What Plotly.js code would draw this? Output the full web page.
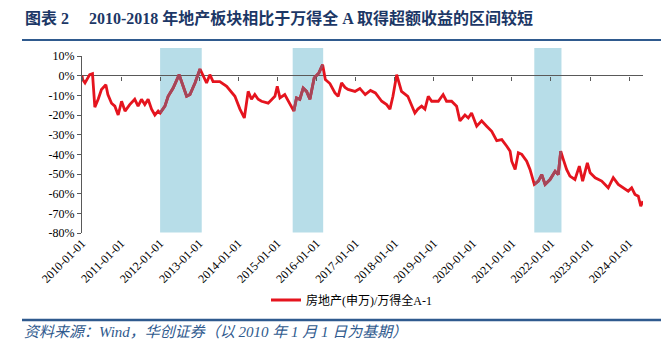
<!DOCTYPE html>
<html>
<head>
<meta charset="utf-8">
<script src="https://cdn.plot.ly/plotly-3.0.1.min.js"></script>
<style>html,body{margin:0;padding:0;background:#fff;}#chart{width:661px;height:352px;}</style>
</head>
<body>
<div id="chart"></div>
<script>
const dates = ['2010-01-01','2010-01-07','2010-01-29','2010-03-14','2010-04-09','2010-05-01','2010-06-01','2010-07-02','2010-08-12','2010-08-31',
'2010-10-04','2010-11-04','2010-12-05','2011-01-06','2011-02-07','2011-03-23','2011-05-09','2011-06-09','2011-07-11','2011-08-11',
'2011-09-11','2011-10-13','2011-11-13','2011-12-14','2012-01-01','2012-02-15','2012-03-16','2012-05-02','2012-06-27','2012-07-19',
'2012-09-05','2012-10-06','2012-11-22','2013-01-08','2013-02-08','2013-03-10','2013-04-10','2013-05-10','2013-07-12','2013-09-14',
'2013-11-30','2014-01-16','2014-02-26','2014-04-03','2014-05-04','2014-06-04','2014-07-05','2014-08-06','2014-10-07','2014-12-09',
'2014-12-31','2015-01-25','2015-03-11','2015-04-27','2015-06-04','2015-06-29','2015-07-30','2015-08-30','2015-10-01','2015-11-01',
'2015-12-11','2016-01-24','2016-02-28','2016-03-24','2016-05-06','2016-06-22','2016-07-22','2016-08-23','2016-09-24','2016-10-22',
'2016-12-26','2017-02-10','2017-04-01','2017-05-20','2017-07-05','2017-09-02','2017-10-18','2017-11-18','2017-12-16','2018-01-20','2018-03-06','2018-05-04',
'2018-06-12','2018-07-09','2018-08-06','2018-09-10','2018-10-11','2018-11-11','2018-12-13','2019-02-13','2019-03-30',
'2019-05-01','2019-06-17','2019-08-03','2019-09-03','2019-10-20','2019-11-20','2019-12-21','2020-02-07','2020-03-24','2020-05-10',
'2020-06-26','2020-08-12','2020-09-28','2020-11-14','2020-12-15','2020-12-30','2021-01-31','2021-03-02','2021-04-03','2021-05-19',
'2021-06-19','2021-07-29','2021-09-05','2021-10-07','2021-11-07','2021-12-23','2022-02-09','2022-03-10','2022-04-02','2022-04-26',
'2022-05-27','2022-06-27','2022-08-13','2022-09-23','2022-10-24','2022-12-07','2023-01-02','2023-02-18','2023-04-20','2023-06-20',
'2023-08-06','2023-09-22','2023-11-08','2023-12-24','2024-01-25','2024-02-25','2024-03-27','2024-04-19','2024-05-10'];
const values = [0,-2,-3.7,0.5,1,-16,-12,-7,-4.6,-9.6,
-14,-15.5,-20,-13,-18,-14.7,-12,-15.5,-12,-14.7,
-12,-17,-20,-18,-19,-15.5,-10.5,-6.3,0.5,-3,
-10.5,-9.6,-3.7,3.4,-0.3,-3.7,0.5,-3,-3,-5.4,
-10.5,-17,-21.5,-8,-12,-9.6,-12,-13,-14,-10.5,
-5.4,-11.3,-9.6,-14.7,-18,-11.3,-12,-6.3,-8,-12,
-1.2,1.4,5.6,-2,-4,-8.8,-10.5,-3.7,-6,-7,
-8,-6.5,-9.6,-7.5,-8.8,-13,-14.7,-17,-10.5,0.5,-8,-10.5,
-16,-19,-17,-15.5,-17,-10.5,-13,-13,-9.6,
-13,-13,-15.5,-23,-20,-21.5,-19,-25.7,-23,-25.7,
-28.3,-33,-32.5,-35.9,-38.4,-43.5,-47.7,-39.2,-40,-43.5,
-47.7,-55.3,-53.6,-50.3,-55.3,-52.8,-48.6,-50.3,-38.4,-42.6,
-47.7,-51.1,-52.8,-46,-53.6,-44.3,-49.4,-51.9,-53.6,-57,
-51.9,-55.3,-57,-58.7,-57,-60.4,-61.3,-66.3,-63.8];
const regionStarts = ['2012-01-01','2015-05-24','2021-07-29'];
const regionEnds = ['2013-01-24','2016-03-04','2022-04-09'];
const yTickVals = [10,0,-10,-20,-30,-40,-50,-60,-70,-80];
const yTickText = ['10%','0%','-10%','-20%','-30%','-40%','-50%','-60%','-70%','-80%'];
const seriesName = '房地产(申万)/万得全A-1';
const titleText = '图表 2&nbsp;&nbsp;&nbsp;&nbsp;&nbsp;2010-2018 年地产板块相比于万得全 A 取得超额收益的区间较短';
const sourceText = '资料来源：Wind，华创证券（以 2010 年 1 月 1 日为基期）';

// plot area in pixels
const L = 82, R = 643, T = 56, B = 233;
const px = x => (x - L) / (R - L);
const py = y => (B - y) / (B - T);

const inRegion = d => regionStarts.some((s, i) => d >= s && d <= regionEnds[i]);
const overlayVals = values.map((v, i) => inRegion(dates[i]) ? v : null);

const serif = '"Liberation Serif", "Times New Roman", "Noto Sans CJK SC", serif';

const traces = [
  {x: dates, y: values, type: 'scatter', mode: 'lines', name: seriesName,
   line: {color: '#e5141e', width: 2.8}, hoverinfo: 'skip'},
  {x: dates, y: overlayVals, type: 'scatter', mode: 'lines', showlegend: false,
   connectgaps: false, line: {color: '#a5465a', width: 2.8}, hoverinfo: 'skip'},
  // carrier for the zero-line tick axis (invisible)
  {x: dates, y: values, type: 'scatter', mode: 'lines', xaxis: 'x2', showlegend: false, opacity: 0,
   line: {color: 'rgba(0,0,0,0)', width: 0}, hoverinfo: 'skip'}
];

const shapes = regionStarts.map((s, i) => ({
  type: 'rect', xref: 'x', yref: 'paper', x0: s, x1: regionEnds[i], y0: py(232.5), y1: py(48),
  fillcolor: '#b7dde8', line: {width: 0}, layer: 'below'
}));
shapes.push({type: 'line', xref: 'paper', yref: 'paper', x0: px(22), x1: px(661), y0: py(40), y1: py(40),
  line: {color: '#2f5a8e', width: 2}});
shapes.push({type: 'line', xref: 'paper', yref: 'paper', x0: px(22), x1: px(661), y0: py(320), y1: py(320),
  line: {color: '#2f5a8e', width: 2.5}});

const xRange = ['2010-01-01', '2024-05-10'];

const layout = {
  width: 661, height: 352,
  margin: {l: L, r: 661 - R, t: T, b: 352 - B, pad: 0},
  paper_bgcolor: '#ffffff', plot_bgcolor: 'rgba(0,0,0,0)',
  showlegend: true,
  title: {text: titleText, x: 25 / 661, xanchor: 'left', xref: 'container', yref: 'container',
    y: 1 - 18 / 352, yanchor: 'middle',
    font: {family: serif, size: 16, color: '#1c3766', weight: 'bold'}},
  xaxis: {type: 'date', range: xRange, tick0: '2010-01-01', dtick: 'M12', tickformat: '%Y-%m-%d',
    tickangle: -45, ticks: '', showline: false, showgrid: false, zeroline: false,
    tickfont: {family: serif, size: 12, color: '#000'}},
  xaxis2: {type: 'date', range: xRange, overlaying: 'x', anchor: 'free', position: py(76),
    tick0: '2010-01-01', dtick: 'M12', ticks: 'outside', ticklen: 4, tickwidth: 1, tickcolor: '#595959',
    showticklabels: false, showline: false, showgrid: false, zeroline: false},
  yaxis: {range: [-80, 10], tickvals: yTickVals, ticktext: yTickText, ticks: 'outside', ticklen: 4,
    tickcolor: '#595959', showline: true, linecolor: '#595959', linewidth: 1,
    showgrid: false, zeroline: true, zerolinecolor: '#595959', zerolinewidth: 1,
    tickfont: {family: serif, size: 12, color: '#000'}},
  legend: {orientation: 'h', x: px(266), xanchor: 'left', y: py(300), yanchor: 'middle',
    font: {family: serif, size: 12, color: '#000'}, bgcolor: 'rgba(0,0,0,0)'},
  shapes: shapes,
  annotations: [
    {text: sourceText, xref: 'paper', yref: 'paper', x: px(22), y: py(332), xanchor: 'left', yanchor: 'middle',
     showarrow: false, font: {family: serif, size: 15, color: '#2f5a8e', style: 'italic'}}
  ]
};

Plotly.newPlot('chart', traces, layout, {displayModeBar: false, staticPlot: true});
</script>
</body>
</html>
